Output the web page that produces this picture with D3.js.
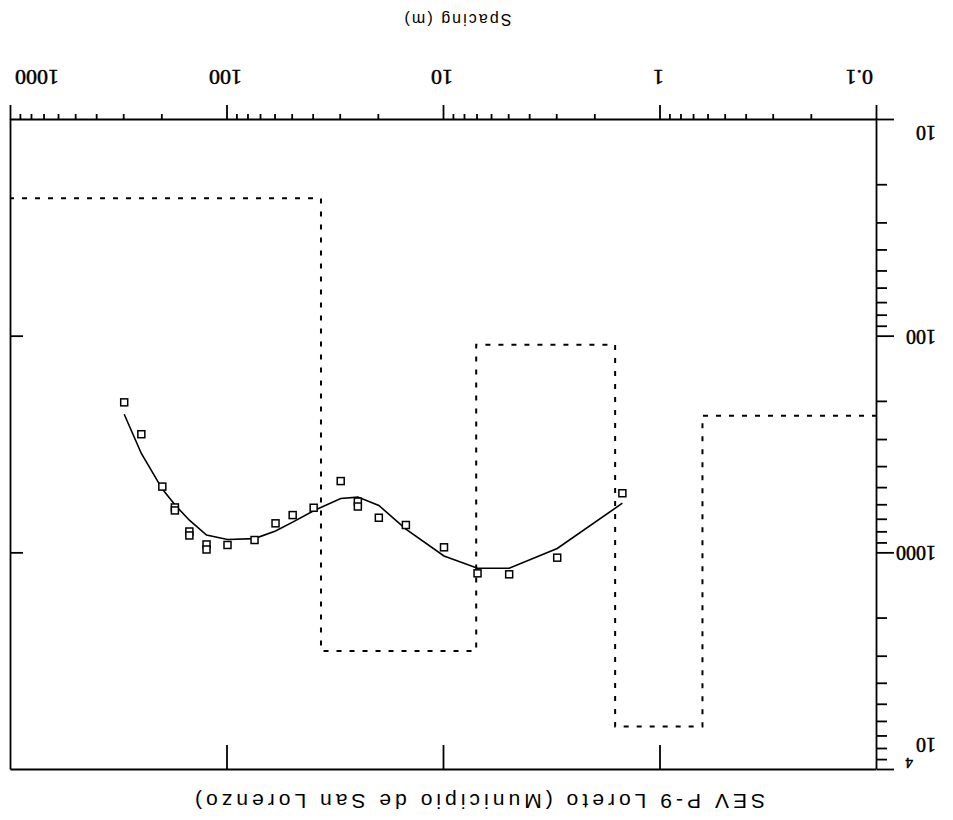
<!DOCTYPE html>
<html>
<head>
<meta charset="utf-8">
<script src="https://cdn.jsdelivr.net/npm/d3@7"></script>
<style>
  html, body { margin: 0; padding: 0; background: #fff; }
  svg { display: block; }
  text { font-family: "Liberation Sans", Arial, sans-serif; fill: #000; }
  .ticklabel { font-family: "Liberation Serif", "Times New Roman", serif; stroke: #000; stroke-width: 0.5px; }
</style>
</head>
<body>
<svg id="chart" width="953" height="820"></svg>
<script>
// Field apparent resistivity (ohm-m) against electrode spacing AB/2 (m)
const fieldSpacing = [1.5, 3, 5, 7, 10, 15, 20, 25, 25, 30, 40, 50, 60, 75, 100, 125, 125, 150, 150, 175, 175, 200, 250, 300];
const fieldRho     = [528, 1047, 1250, 1237, 938, 740, 685, 577, 608, 464, 616, 666, 727, 868, 915, 910, 960, 793, 827, 614, 634, 492, 282, 201];

// Calculated sounding curve of the fitted model
const fitSpacing = [1.5, 3, 5, 7, 10, 15, 20, 25, 30, 40, 50, 60, 75, 100, 125, 150, 175, 200, 250, 300];
const fitRho     = [587, 950, 1172, 1172, 1029, 773, 601, 550, 558, 636, 718, 789, 855, 863, 823, 703, 597, 505, 346, 228];

// Layered model: top depth of each layer (m) and its resistivity (ohm-m)
const layerTop = [0.1, 0.64, 1.62, 7.1, 37, 1000];
const layerRho = [232, 6300, 109, 2820, 23];

const xMajorTicks = [0.1, 1, 10, 100, 1000];
const xTickLabels = ["0.1", "1", "10", "100", "1000"];
const yMajorTicks = [10, 100, 1000, 10000];
const yTickLabels = ["10", "100", "1000", "10^4"];

const chartTitle = "SEV P-9  Loreto (Municipio de San Lorenzo)";
const xTitle = "Spacing (m)";

const W = 953, H = 820;
const frame = { left: 76, right: 942, top: 50, bottom: 700 };

const x = d3.scaleLog().domain([0.1, 1000]).range([frame.left, frame.right]);
const y = d3.scaleLog().domain([10, 10000]).range([frame.bottom, frame.top]);
const isMajor = v => Math.abs(Math.log10(v) - Math.round(Math.log10(v))) < 1e-6;

const svg = d3.select("#chart");
svg.append("rect").attr("width", W).attr("height", H).attr("fill", "#fff");

// The sheet is drawn upright and then turned half a turn
const g = svg.append("g").attr("transform", `rotate(180 ${W / 2} ${H / 2})`);

const axisStroke = 1.8;
function styleAxis(sel) {
  sel.select(".domain").attr("stroke", "#000").attr("stroke-width", axisStroke);
  sel.selectAll(".tick line").attr("stroke", "#000").attr("stroke-width", axisStroke);
  sel.selectAll(".tick text").remove();
}

// Bottom axis: spacing, ticks outward
const xAxisG = g.append("g")
  .attr("transform", `translate(0,${frame.bottom})`)
  .call(d3.axisBottom(x).tickValues(x.ticks()).tickFormat("").tickSizeOuter(0));
styleAxis(xAxisG);
xAxisG.selectAll(".tick line").attr("y2", d => isMajor(d) ? 15 : 6);

// Left axis: resistivity, ticks outward
const yAxisG = g.append("g")
  .attr("transform", `translate(${frame.left},0)`)
  .call(d3.axisLeft(y).tickValues(y.ticks()).tickFormat("").tickSizeOuter(0));
styleAxis(yAxisG);
yAxisG.selectAll(".tick line").attr("x2", d => isMajor(d) ? -17 : -10);

// Top frame with inward decade marks
const topG = g.append("g")
  .attr("transform", `translate(0,${frame.top})`)
  .call(d3.axisBottom(x).tickValues([1, 10, 100]).tickFormat("").tickSizeInner(25).tickSizeOuter(0));
styleAxis(topG);

// Right frame with inward decade marks
const rightG = g.append("g")
  .attr("transform", `translate(${frame.right},0)`)
  .call(d3.axisLeft(y).tickValues([100, 1000]).tickFormat("").tickSizeInner(12).tickSizeOuter(0));
styleAxis(rightG);

// Spacing tick labels
const xLabelG = g.append("g").attr("font-size", 22);
xMajorTicks.forEach((v, i) => {
  const first = i === 0, last = i === xMajorTicks.length - 1;
  xLabelG.append("text")
    .attr("class", "ticklabel")
    .attr("x", x(v) + (first ? 4 : last ? -4 : 2))
    .attr("y", 750)
    .attr("text-anchor", first ? "start" : last ? "end" : "middle")
    .text(xTickLabels[i]);
});

// Resistivity tick labels
const yLabelG = g.append("g").attr("font-size", 20);
yMajorTicks.forEach((v, i) => {
  const first = i === 0, last = i === yMajorTicks.length - 1;
  const yy = y(v) + 7 + (first ? -13 : last ? 25 : 0);
  const parts = yTickLabels[i].split("^");
  const t = yLabelG.append("text").attr("class", "ticklabel")
    .attr("x", 17).attr("y", yy).attr("text-anchor", "start");
  t.append("tspan").text(parts[0]);
  if (parts[1]) {
    t.append("tspan").attr("font-size", 15).attr("dy", -20).attr("dx", 3).text(parts[1]);
  }
});

// Layer model (dotted steps)
const layerPts = layerRho.map((r, i) => [layerTop[i], r]);
layerPts.push([layerTop[layerTop.length - 1], layerRho[layerRho.length - 1]]);
g.append("path")
  .datum(layerPts)
  .attr("fill", "none")
  .attr("stroke", "#000")
  .attr("stroke-width", 2)
  .attr("stroke-dasharray", "5,8")
  .attr("d", d3.line().x(d => x(d[0])).y(d => y(d[1])).curve(d3.curveStepAfter));

// Calculated curve
g.append("path")
  .datum(fitSpacing.map((s, i) => [s, fitRho[i]]))
  .attr("fill", "none")
  .attr("stroke", "#000")
  .attr("stroke-width", 1.6)
  .attr("d", d3.line().x(d => x(d[0])).y(d => y(d[1])));

// Field readings as open squares
const sq = 7;
g.append("g").selectAll("rect")
  .data(fieldSpacing.map((s, i) => [s, fieldRho[i]]))
  .join("rect")
  .attr("x", d => x(d[0]) - sq / 2)
  .attr("y", d => y(d[1]) - sq / 2)
  .attr("width", sq)
  .attr("height", sq)
  .attr("fill", "#fff")
  .attr("stroke", "#000")
  .attr("stroke-width", 1.5);

// Titles
g.append("text")
  .attr("x", 473).attr("y", 26)
  .attr("text-anchor", "middle")
  .attr("font-size", 21)
  .attr("textLength", 570).attr("lengthAdjust", "spacing")
  .text(chartTitle);

g.append("text")
  .attr("x", 495).attr("y", 806)
  .attr("text-anchor", "middle")
  .attr("font-size", 16)
  .attr("textLength", 107).attr("lengthAdjust", "spacing")
  .text(xTitle);
</script>
</body>
</html>
